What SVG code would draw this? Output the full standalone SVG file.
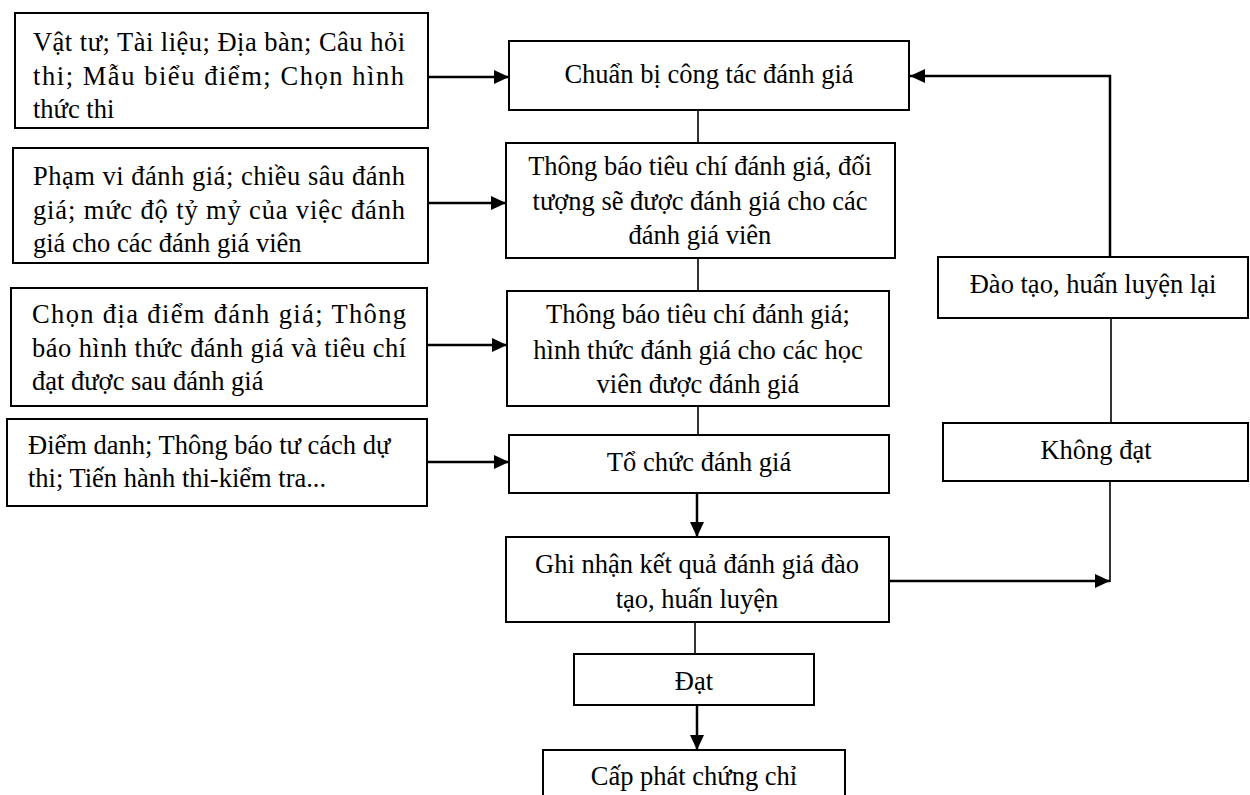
<svg xmlns="http://www.w3.org/2000/svg" width="1250" height="795" viewBox="0 0 1250 795">
<defs>
<marker id="ah" markerUnits="userSpaceOnUse" markerWidth="16" markerHeight="14" refX="15" refY="7" orient="auto">
<path d="M0,0 L15,7 L0,14 Z" fill="#000"/>
</marker>
<style>
.box{fill:#fff;stroke:#000;stroke-width:2}
.t{font-family:"Liberation Serif","Times New Roman",serif;font-size:26.5px;fill:#000}
.c{text-anchor:middle}
.arr{fill:none;stroke:#000;stroke-width:2.5;marker-end:url(#ah)}
.ln{fill:none;stroke:#000;stroke-width:1.6}
</style>
</defs>
<rect width="1250" height="795" fill="#fff"/>

<g id="connectors">
<line class="arr" x1="428" y1="77" x2="509" y2="77"/>
<line class="arr" x1="428" y1="203" x2="506" y2="203"/>
<line class="arr" x1="427" y1="345" x2="507" y2="345"/>
<line class="arr" x1="427" y1="462" x2="509" y2="462"/>
<line class="ln" x1="698" y1="110" x2="698" y2="143"/>
<line class="ln" x1="698" y1="258" x2="698" y2="291"/>
<line class="ln" x1="698" y1="406" x2="698" y2="435"/>
<line class="arr" x1="697" y1="493" x2="697" y2="537"/>
<line class="ln" x1="695" y1="622" x2="695" y2="654"/>
<line class="arr" x1="697" y1="705" x2="697" y2="750"/>
<line class="arr" x1="889" y1="581" x2="1110" y2="581"/>
<line class="ln" x1="1110" y1="481" x2="1110" y2="582"/>
<line class="ln" x1="1111" y1="318" x2="1111" y2="423"/>
<polyline class="arr" points="1110,257 1110,76 910,76"/>
</g>

<g id="in1">
<rect class="box" x="15" y="13" width="413" height="115"/>
<text class="t" x="33" y="51" textLength="372" lengthAdjust="spacing">Vật tư; Tài liệu; Địa bàn; Câu hỏi</text>
<text class="t" x="33" y="85" textLength="371" lengthAdjust="spacing">thi; Mẫu biểu điểm; Chọn hình</text>
<text class="t" x="33" y="118">thức thi</text>
</g>
<g id="in2">
<rect class="box" x="13" y="148" width="415" height="115"/>
<text class="t" x="33" y="185" textLength="372" lengthAdjust="spacing">Phạm vi đánh giá; chiều sâu đánh</text>
<text class="t" x="33" y="219" textLength="372" lengthAdjust="spacing">giá; mức độ tỷ mỷ của việc đánh</text>
<text class="t" x="33" y="252">giá cho các đánh giá viên</text>
</g>
<g id="in3">
<rect class="box" x="11" y="288" width="416" height="118"/>
<text class="t" x="32" y="323" textLength="374" lengthAdjust="spacing">Chọn địa điểm đánh giá; Thông</text>
<text class="t" x="32" y="357" textLength="374" lengthAdjust="spacing">báo hình thức đánh giá và tiêu chí</text>
<text class="t" x="32" y="390">đạt được sau đánh giá</text>
</g>
<g id="in4">
<rect class="box" x="7" y="419" width="420" height="87"/>
<text class="t" x="28" y="454">Điểm danh; Thông báo tư cách dự</text>
<text class="t" x="28" y="487">thi; Tiến hành thi-kiểm tra...</text>
</g>

<g id="s1">
<rect class="box" x="509" y="41" width="400" height="69"/>
<text class="t c" x="709" y="83">Chuẩn bị công tác đánh giá</text>
</g>
<g id="s2">
<rect class="box" x="506" y="143" width="389" height="115"/>
<text class="t c" x="700" y="175">Thông báo tiêu chí đánh giá, đối</text>
<text class="t c" x="700" y="210">tượng sẽ được đánh giá cho các</text>
<text class="t c" x="700" y="244">đánh giá viên</text>
</g>
<g id="s3">
<rect class="box" x="507" y="291" width="382" height="115"/>
<text class="t c" x="698" y="323">Thông báo tiêu chí đánh giá;</text>
<text class="t c" x="698" y="359">hình thức đánh giá cho các học</text>
<text class="t c" x="698" y="393">viên được đánh giá</text>
</g>
<g id="s4">
<rect class="box" x="509" y="435" width="380" height="58"/>
<text class="t c" x="699" y="471">Tổ chức đánh giá</text>
</g>
<g id="s5">
<rect class="box" x="506" y="537" width="383" height="85"/>
<text class="t c" x="697" y="573">Ghi nhận kết quả đánh giá đào</text>
<text class="t c" x="697" y="608">tạo, huấn luyện</text>
</g>
<g id="dat">
<rect class="box" x="574" y="654" width="240" height="51"/>
<text class="t c" x="694" y="690">Đạt</text>
</g>
<g id="capphat">
<rect class="box" x="543" y="750" width="302" height="60"/>
<text class="t c" x="694" y="785">Cấp phát chứng chỉ</text>
</g>
<g id="daotao">
<rect class="box" x="938" y="257" width="310" height="61"/>
<text class="t c" x="1093" y="293">Đào tạo, huấn luyện lại</text>
</g>
<g id="khongdat">
<rect class="box" x="943" y="423" width="305" height="58"/>
<text class="t c" x="1096" y="459">Không đạt</text>
</g>
</svg>
